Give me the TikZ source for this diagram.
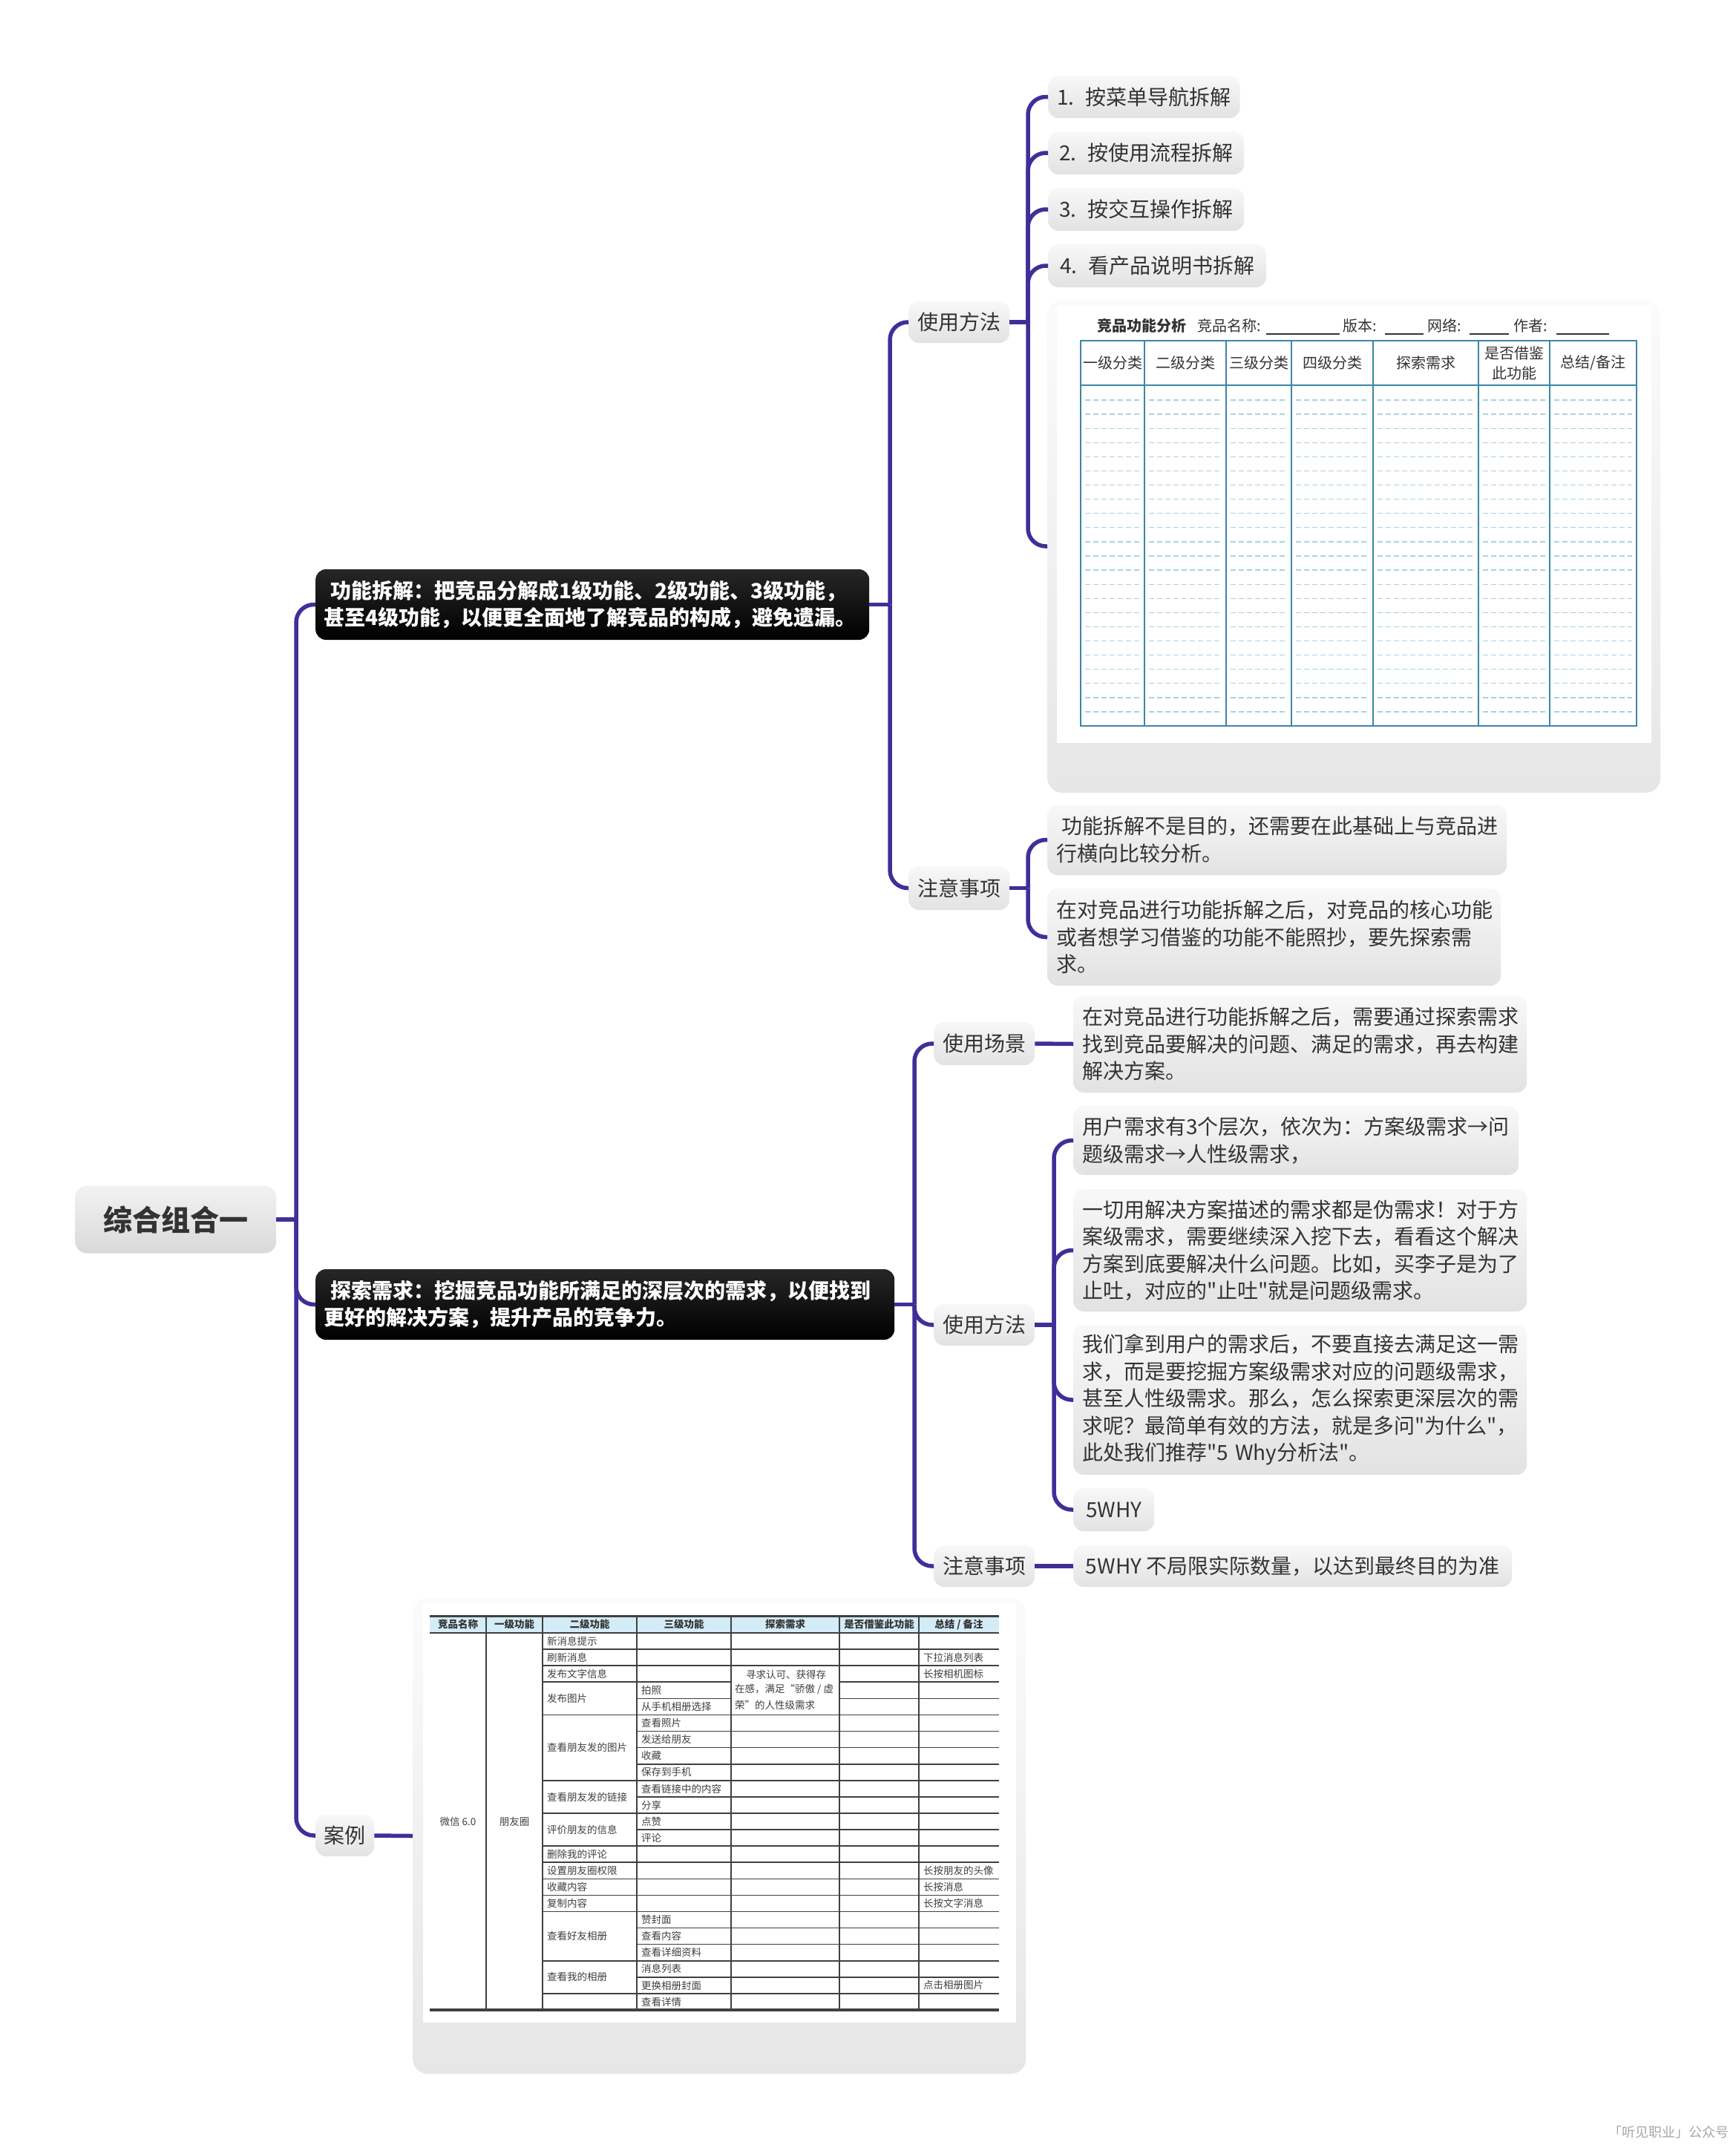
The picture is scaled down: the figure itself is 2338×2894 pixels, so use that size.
\documentclass[tikz,border=0pt]{standalone}
\usepackage{fontspec}
\setmainfont{Noto Sans CJK SC}
\newfontfamily\plainq{Noto Sans CJK SC}
\newcommand\dq{{\plainq"}}
\definecolor{lineC}{HTML}{3F2F98}
\definecolor{boxT}{HTML}{F8F8F8}
\definecolor{boxB}{HTML}{E2E2E2}
\definecolor{txt}{HTML}{333333}
\definecolor{tblC}{HTML}{3C86A5}
\definecolor{dashC}{HTML}{A6D3E0}
\definecolor{hdrC}{HTML}{D3ECF7}
\definecolor{imgT}{HTML}{FBFBFB}
\definecolor{imgB}{HTML}{E6E6E6}
\tikzset{
  conn/.style={draw=lineC, line width=5.5pt, rounded corners=24pt},
  lvl/.style={rounded corners=14pt, top color=boxT, bottom color=boxB, draw=none, text=txt,
    font=\fontsize{28}{36.5}\selectfont, inner xsep=12pt, inner ysep=0pt, anchor=west, align=left},
  lbl/.style={lvl, align=center, minimum height=56pt},
  dark/.style={rounded corners=14pt, top color=black!85, bottom color=black, draw=none, text=white,
    font=\bfseries\fontsize{28}{36}\selectfont, inner xsep=11pt, inner ysep=0pt, anchor=west, align=left},
  imgbox/.style={rounded corners=20pt, top color=imgT, bottom color=imgB, draw=none, anchor=west, inner sep=0pt},
  tline/.style={draw=tblC, line width=2pt},
  dashL/.style={draw=dashC, line width=1.3pt, dash pattern=on 7pt off 4pt},
  thdr/.style={text=txt, font=\fontsize{20}{27}\selectfont, inner sep=0pt, align=center},
  ttl/.style={text=txt, font=\fontsize{20}{24}\selectfont, inner sep=0pt, anchor=west},
  cl/.style={draw=black!75, line width=1.6pt},
  ch/.style={text=black!80, font=\bfseries\fontsize{13.5}{16}\selectfont, inner sep=0pt},
  ct/.style={text=black!75, font=\fontsize{13.5}{20.5}\selectfont, inner sep=0pt, anchor=west},
}
\begin{document}
\begin{tikzpicture}[x=1pt,y=-1pt]
\useasboundingbox (0,0) rectangle (2338,2894);
\fill[white] (0,0) rectangle (2338,2894);

% ---------- nodes: level 0/1 ----------
\node[lvl, align=center, minimum width=271pt, minimum height=91pt, rounded corners=16pt,
  top color=black!5, bottom color=black!15, font=\bfseries\fontsize{39}{44}\selectfont] (root) at (101,1643) {综合组合一};

\node[dark, text width=724pt, minimum height=95pt] (b1) at (425,814.5)
  {\hspace*{9pt}功能拆解：把竞品分解成1级功能、2级功能、3级功能，\\甚至4级功能，以便更全面地了解竞品的构成，避免遗漏。};
\node[dark, text width=758pt, minimum height=95pt] (b2) at (425,1757.5)
  {\hspace*{9pt}探索需求：挖掘竞品功能所满足的深层次的需求，以便找到\\更好的解决方案，提升产品的竞争力。};
\node[lbl, minimum width=79pt, inner xsep=4pt] (case) at (425,2473) {案例};

% ---------- branch 1 ----------
\node[lbl, minimum width=134pt] (b1u) at (1224,434) {使用方法};
\node[lbl, minimum width=134pt, minimum height=59pt] (b1n) at (1224,1196.5) {注意事项};

\node[lvl, minimum width=258pt, minimum height=57pt] (it1) at (1412,130.5) {1.\hspace{15pt}按菜单导航拆解};
\node[lvl, minimum width=264pt, minimum height=58pt] (it2) at (1412,206) {2.\hspace{15pt}按使用流程拆解};
\node[lvl, minimum width=264pt, minimum height=58pt] (it3) at (1412,282) {3.\hspace{15pt}按交互操作拆解};
\node[lvl, minimum width=294pt, minimum height=58pt] (it4) at (1412,358) {4.\hspace{15pt}看产品说明书拆解};

\node[imgbox, minimum width=826pt, minimum height=664pt] (tpl) at (1411,736) {};

\node[lvl, text width=595pt, minimum height=95pt] (nt1) at (1411,1131.5)
  {\hspace*{7pt}功能拆解不是目的，还需要在此基础上与竞品进\\行横向比较分析。};
\node[lvl, text width=587pt, minimum height=131pt] (nt2) at (1411,1262.5)
  {在对竞品进行功能拆解之后，对竞品的核心功能\\或者想学习借鉴的功能不能照抄，要先探索需\\求。};

% ---------- branch 2 ----------
\node[lbl, minimum width=135pt, minimum height=58pt] (s1) at (1258,1406) {使用场景};
\node[lbl, minimum width=135pt, minimum height=56pt] (s2) at (1258,1785) {使用方法};
\node[lbl, minimum width=135pt, minimum height=56pt] (s3) at (1258,2110) {注意事项};

\node[lvl, text width=587pt, minimum height=131pt] (sc) at (1446,1406.5)
  {在对竞品进行功能拆解之后，需要通过探索需求\\找到竞品要解决的问题、满足的需求，再去构建\\解决方案。};
\node[lvl, text width=576pt, minimum height=93pt] (m1) at (1446,1536.5)
  {用户需求有3个层次，依次为：方案级需求→问\\题级需求→人性级需求，};
\node[lvl, text width=587pt, minimum height=165pt] (m2) at (1446,1684.5)
  {一切用解决方案描述的需求都是伪需求！对于方\\案级需求，需要继续深入挖下去，看看这个解决\\方案到底要解决什么问题。比如，买李子是为了\\止吐，对应的\dq 止吐\dq 就是问题级需求。};
\node[lvl, text width=587pt, minimum height=202pt] (m3) at (1446,1886)
  {我们拿到用户的需求后，不要直接去满足这一需\\求，而是要挖掘方案级需求对应的问题级需求，\\甚至人性级需求。那么，怎么探索更深层次的需\\求呢？最简单有效的方法，就是多问\dq 为什么\dq ，\\此处我们推荐\dq 5 Why分析法\dq 。};
\node[lbl, minimum width=109pt, minimum height=58pt] (m4) at (1446,2034) {5WHY};
\node[lvl, minimum width=591pt, minimum height=56pt] (nn) at (1446,2110) {5WHY 不局限实际数量，以达到最终目的为准};

\node[imgbox, minimum width=826pt, minimum height=641pt] (cimg) at (556,2473.5) {};

% ---------- connectors ----------
\coordinate (tr) at (399,1643);
\coordinate (t1) at (1199,814.5);
\coordinate (t11) at (1385,434);
\coordinate (t12) at (1385,1196.5);
\coordinate (t2) at (1232,1757.5);
\coordinate (t21) at (1420,1785);

\draw[conn] (root.east) -- (tr);
\draw[conn] (tr) |- (b1.west);
\draw[conn] (tr) |- (b2.west);
\draw[conn] (tr) |- (case.west);
\draw[conn] (case.east) -- (cimg.west);

\draw[conn] (b1.east) -- (t1);
\draw[conn] (t1) |- (b1u.west);
\draw[conn] (t1) |- (b1n.west);
\draw[conn] (b1u.east) -- (t11);
\foreach \n in {it1,it2,it3,it4,tpl} \draw[conn] (t11) |- (\n.west);
\draw[conn] (b1n.east) -- (t12);
\draw[conn] (t12) |- (nt1.west);
\draw[conn] (t12) |- (nt2.west);

\draw[conn] (b2.east) -- (t2);
\foreach \n in {s1,s2,s3} \draw[conn] (t2) |- (\n.west);
\draw[conn] (s1.east) -- (sc.west);
\draw[conn] (s2.east) -- (t21);
\foreach \n in {m1,m2,m3,m4} \draw[conn] (t21) |- (\n.west);
\draw[conn] (s3.east) -- (nn.west);

% ---------- template table image ----------
\fill[white] (1424,412) rectangle (2225,1001);
\node[ttl, font=\bfseries\fontsize{20}{24}\selectfont] (tt0) at (1478,439) {竞品功能分析};
\node[ttl] (tt1) at (1613,439) {竞品名称:};
\node[ttl] (tt2) at (1809,439) {版本:};
\node[ttl] (tt3) at (1923,439) {网络:};
\node[ttl] (tt4) at (2039,439) {作者:};
\foreach \a/\b in {1706/1805,1866/1918,1980/2033,2097/2168}
  \draw[black!80, line width=1.5pt] (\a,450) -- (\b,450);
\foreach \k in {0,...,22}
  \foreach \a/\b in {1456/1542,1542/1652,1652/1740,1740/1850,1850/1992,1992/2088,2088/2205}
    \draw[dashL] ({\a+6},{539+\k*19.09}) -- ({\b-6},{539+\k*19.09});
\draw[tline] (1456,459) rectangle (2205,978);
\draw[tline, line width=2.6pt] (1456,519) -- (2205,519);
\draw[tline, line width=2.8pt] (1456,978) -- (2205,978);
\foreach \a in {1542,1652,1740,1850,1992,2088} \draw[tline] (\a,459) -- (\a,978);
\foreach \c/\t [count=\i] in {1499/{一级分类},1597/{二级分类},1696/{三级分类},1795/{四级分类},1921/{探索需求},2040/{是否借鉴\\此功能},2146.5/{总结/备注}}
  \node[thdr] (th\i) at (\c,489) {\t};

% ---------- case table image ----------
\fill[white] (570,2160) rectangle (1369,2725);
\fill[hdrC] (579,2177) rectangle (1346,2200);
\draw[cl, line width=3pt] (579,2177) -- (1346,2177);
\draw[cl, line width=2.4pt] (579,2200) -- (1346,2200);
\draw[cl, line width=3.2pt] (579,2708) -- (1346,2708);
\foreach \a in {655,731,858,985,1131,1238} \draw[cl, line width=1.3pt] (\a,2177) -- (\a,2708);
\foreach \b in {1,...,22} {
  \draw[cl] (858,{2200+\b*22.087}) -- (985,{2200+\b*22.087});
  \draw[cl] (1131,{2200+\b*22.087}) -- (1346,{2200+\b*22.087});
}
\foreach \b in {1,2,3,5,9,11,13,14,15,16,17,20,22}
  \draw[cl] (731,{2200+\b*22.087}) -- (858,{2200+\b*22.087});
\foreach \b in {1,2,5,6,7,8,9,10,11,12,13,14,15,16,17,18,19,20,21,22}
  \draw[cl] (985,{2200+\b*22.087}) -- (1131,{2200+\b*22.087});
\foreach \c/\t [count=\i] in {617/{竞品名称},693/{一级功能},794.5/{二级功能},921.5/{三级功能},1058/{探索需求},1184.5/{是否借鉴此功能},1292/{总结 / 备注}}
  \node[ch] (ch\i) at (\c,2188.5) {\t};
\node[ct, anchor=center] (cw) at (617,2454) {微信 6.0};
\node[ct, anchor=center] (cp) at (693,2454) {朋友圈};
\foreach \r/\t [count=\i] in {1/新消息提示,2/刷新消息,3/发布文字信息,4.5/发布图片,7.5/查看朋友发的图片,10.5/查看朋友发的链接,12.5/评价朋友的信息,14/删除我的评论,15/设置朋友圈权限,16/收藏内容,17/复制内容,19/查看好友相册,21.5/查看我的相册}
  \node[ct] (ca\i) at (737,{2200+(\r-0.5)*22.087}) {\t};
\foreach \r/\t [count=\i] in {4/拍照,5/从手机相册选择,6/查看照片,7/发送给朋友,8/收藏,9/保存到手机,10/查看链接中的内容,11/分享,12/点赞,13/评论,18/赞封面,19/查看内容,20/查看详细资料,21/消息列表,22/更换相册封面,23/查看详情}
  \node[ct] (cb\i) at (864,{2200+(\r-0.5)*22.087}) {\t};
\foreach \r/\t [count=\i] in {2/下拉消息列表,3/长按相机图标,15/长按朋友的头像,16/长按消息,17/长按文字消息,22/点击相册图片}
  \node[ct] (cc\i) at (1244,{2200+(\r-0.5)*22.087}) {\t};
\node[ct] (ce1) at (1005,2256) {寻求认可、获得存};
\node[ct] (ce2) at (990,2276) {在感，满足“骄傲 / 虚};
\node[ct] (ce3) at (990,2297) {荣”的人性级需求};

% ---------- watermark ----------
\node[text=black!35, font=\fontsize{18}{20}\selectfont, inner sep=0pt, anchor=east] (wm) at (2330,2873) {「听见职业」公众号};
\end{tikzpicture}
\end{document}
